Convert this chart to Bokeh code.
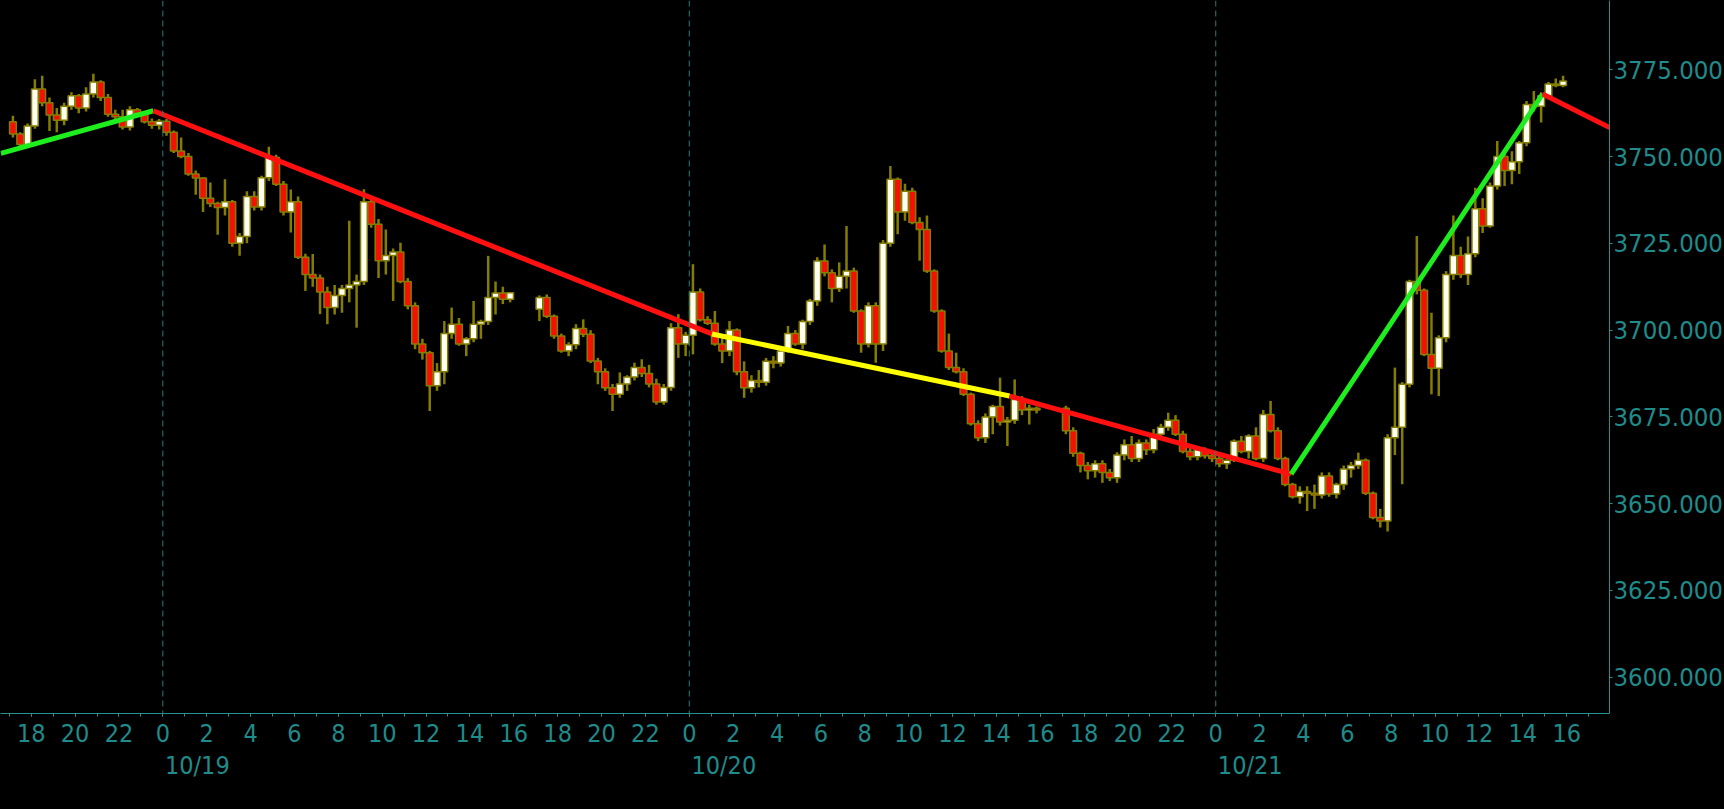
import numpy as np
import pandas as pd
from bokeh.plotting import figure
from bokeh.models import (Range1d, FixedTicker, PrintfTickFormatter, Span, LinearAxis,
                          ColumnDataSource, GlobalInlineStyleSheet)
from bokeh.embed import file_html
from bokeh.resources import INLINE

# ---------------- data ----------------
origin = pd.Timestamp("2020-10-19 00:00")
session_starts = ["2020-10-18 17:00", "2020-10-19 17:00", "2020-10-20 17:00"]
bar_minutes = 20

s1_open = [3760, 3756.5, 3753.5, 3758.8, 3769.5, 3765.5, 3762, 3760.5, 3764.5, 3767.5,
           3764, 3768, 3771.5, 3767, 3762.2, 3761.5, 3758.5, 3763.5, 3762.5, 3760,
           3759, 3760.2, 3757, 3751.6, 3750, 3745, 3743.8, 3738, 3736.5, 3735.3,
           3737, 3725, 3727, 3738.5, 3735.5, 3743.9, 3749.7, 3742, 3734, 3737,
           3721, 3716, 3715, 3711, 3706.5, 3710, 3712, 3713, 3714, 3737,
           3730.5, 3720, 3721.5, 3722.5, 3714, 3707, 3696, 3693.5, 3684, 3688,
           3699, 3701.7, 3696, 3697.5, 3701.7, 3702.5, 3709.4, 3710.7, 3708.9]
s1_high = [3761.8, 3757, 3759.5, 3772.3, 3773.3, 3767, 3764, 3765.5, 3768.5, 3768,
           3770, 3773.9, 3772, 3768, 3763.5, 3763.5, 3764.5, 3764, 3763, 3761,
           3760.8, 3760.8, 3757.5, 3755.5, 3751, 3746, 3744, 3742.5, 3737, 3743.5,
           3737.5, 3728, 3740, 3740, 3744.5, 3752.8, 3750.5, 3743, 3740.5, 3738.5,
           3722, 3721.9, 3716, 3712.5, 3713, 3713, 3731.5, 3716, 3740.6, 3738.5,
           3732, 3729, 3723.5, 3725.2, 3715, 3708, 3697.5, 3694, 3690.5, 3702.6,
           3706.5, 3703.5, 3698, 3708.4, 3703, 3721.4, 3714, 3712.5, 3711]
s1_low = [3755.5, 3752.8, 3753, 3758, 3764.5, 3757.4, 3757, 3759, 3763.5, 3762.5,
          3763, 3767, 3766, 3761.5, 3760.5, 3757.8, 3757.5, 3761.5, 3759.5, 3758,
          3757.8, 3756, 3751, 3749.5, 3744.5, 3739, 3734, 3735.5, 3727.5, 3733,
          3724, 3721.4, 3725, 3734.5, 3734.5, 3743, 3741.5, 3733, 3728.1, 3720.5,
          3711.3, 3712.5, 3704.6, 3701.7, 3704.5, 3705, 3708, 3700.7, 3713, 3729.5,
          3715, 3716, 3708.4, 3713.5, 3706, 3694.5, 3691.5, 3676.7, 3682.5, 3684.4,
          3697.5, 3695.5, 3692.5, 3696.5, 3697.5, 3701.5, 3704.5, 3707.5, 3708]
s1_close = [3756.5, 3753.5, 3758.8, 3769.5, 3765.5, 3762, 3760.5, 3764.5, 3767.5, 3764,
            3768, 3771.5, 3767, 3762.2, 3761.5, 3758.5, 3763.5, 3762.5, 3760, 3759,
            3760.2, 3757, 3751.6, 3750, 3745, 3743.8, 3738, 3736.5, 3735.3, 3737,
            3725, 3727, 3738.5, 3735.5, 3743.9, 3749.7, 3742, 3734, 3737, 3721,
            3716, 3715, 3711, 3706.5, 3710, 3712, 3713, 3714, 3737, 3730.5,
            3720, 3721.5, 3722.5, 3714, 3707, 3696, 3693.5, 3684, 3688, 3699,
            3701.7, 3696, 3697.5, 3701.7, 3702.5, 3709.4, 3710.7, 3708.9, 3710.8]

s2_open = [3706, 3709.4, 3704, 3698.3, 3694, 3695.8, 3700.5, 3698.8, 3691.1, 3688,
           3683.4, 3681.5, 3684.5, 3686.5, 3689.2, 3687.5, 3684.5, 3679.3, 3683.5, 3700.7,
           3696, 3698.5, 3711, 3703, 3702, 3696, 3694, 3700, 3688, 3683.4,
           3685.5, 3685, 3691, 3690.5, 3694, 3699, 3696, 3702.5, 3708.4, 3719.9,
           3716.5, 3712, 3715.5, 3717, 3705.5, 3696, 3707, 3696, 3725, 3743.5,
           3734, 3740, 3731, 3729, 3717, 3705.5, 3694, 3689.2, 3688, 3681.5,
           3673, 3669, 3675, 3678, 3673.5, 3674, 3680, 3677, 3677.5]
s2_high = [3710, 3710.3, 3704.5, 3699, 3696.5, 3701.7, 3703.1, 3700, 3692, 3689,
           3684.5, 3687.8, 3687, 3690.6, 3691.6, 3690, 3686, 3684.5, 3702, 3704.6,
           3699.5, 3719, 3712, 3704, 3705.5, 3698, 3702.6, 3700.5, 3691, 3687,
           3688.5, 3692, 3692.5, 3695, 3701.2, 3700, 3703, 3709, 3721, 3724.7,
           3717.5, 3719.5, 3730, 3718, 3706, 3708, 3708, 3726, 3747.3, 3744,
           3742.2, 3741, 3732.5, 3733, 3717.5, 3706, 3699, 3693.5, 3689, 3682,
           3674, 3676, 3678.5, 3686.3, 3675, 3685.8, 3681, 3678.5, 3678]
s2_low = [3702.6, 3703.5, 3697.5, 3693.5, 3692.5, 3694.5, 3698, 3690.5, 3684.4, 3682.5,
          3676.7, 3680.5, 3682.5, 3685.5, 3686.5, 3683.5, 3678.5, 3678.5, 3682.5, 3692,
          3692.5, 3693, 3702.5, 3701.5, 3695.5, 3690.5, 3692.5, 3687, 3680.5, 3682,
          3683.5, 3684, 3689, 3689.5, 3693.5, 3695.5, 3694.5, 3701.5, 3707, 3715.5,
          3708, 3711, 3712, 3705, 3693.5, 3695, 3690.6, 3694, 3724, 3727.6,
          3731.5, 3730.5, 3720, 3716.5, 3705, 3693.5, 3688.5, 3687.5, 3681, 3672.5,
          3668, 3667.5, 3670, 3672.5, 3666.6, 3673, 3675.5, 3672.8, 3676]
s2_close = [3709.4, 3704, 3698.3, 3694, 3695.8, 3700.5, 3698.8, 3691.1, 3688, 3683.4,
            3681.5, 3684.5, 3686.5, 3689.2, 3687.5, 3684.5, 3679.3, 3683.5, 3700.7, 3696,
            3698.5, 3711, 3703, 3702, 3696, 3694, 3700, 3688, 3683.4, 3685.5,
            3685, 3691, 3690.5, 3694, 3699, 3696, 3702.5, 3708.4, 3719.9, 3716.5,
            3712, 3715.5, 3717, 3705.5, 3696, 3707, 3696, 3725, 3743.5, 3734,
            3740, 3731, 3729, 3717, 3705.5, 3694, 3689.2, 3688, 3681.5, 3673,
            3669, 3675, 3678, 3673.5, 3674, 3680, 3677, 3677.5, 3677]

s3_open = [3677.5, 3671, 3664.5, 3661, 3659.5, 3661.5, 3659, 3657.5, 3664, 3667,
           3663, 3667.5, 3665.5, 3670, 3672, 3674, 3670, 3665, 3663.5, 3665.5,
           3663.8, 3663, 3661.5, 3662.5, 3668, 3665, 3669.5, 3663, 3675.7, 3671,
           3663, 3655.5, 3652, 3653.5, 3653, 3652.5, 3658, 3652.8, 3655.5, 3660,
           3661, 3662.5, 3653, 3646, 3645, 3669, 3672, 3684.4, 3714, 3711.5,
           3693, 3689, 3697.8, 3716, 3721.5, 3716, 3722, 3735, 3730, 3741.5,
           3750, 3746, 3748.5, 3754, 3765, 3764.5, 3767.5, 3770.9, 3770.5]
s3_high = [3678.2, 3672, 3665, 3662, 3662.5, 3662.5, 3660, 3664.8, 3668.5, 3669.5,
           3668.5, 3668.5, 3671.5, 3673, 3676.2, 3675.5, 3671, 3666.5, 3666.5, 3666.2,
           3665.5, 3664, 3662.8, 3668.5, 3669.5, 3670, 3672, 3677, 3679.6, 3672,
           3663.5, 3656, 3655, 3655, 3655.5, 3659, 3659, 3656, 3661, 3662,
           3664.7, 3663, 3653.5, 3648.5, 3670, 3689.2, 3685, 3714.5, 3727.1, 3712,
           3705, 3698.5, 3717, 3733, 3724, 3727, 3741, 3738, 3742.5, 3754.5,
           3752, 3751.5, 3754.5, 3766, 3768.9, 3768.5, 3771.5, 3772.5, 3773.3]
s3_low = [3670, 3663.5, 3659, 3657, 3657.5, 3656, 3656.5, 3656, 3662.5, 3662,
          3662, 3664, 3664.5, 3669, 3671, 3669.5, 3664.5, 3662.5, 3662.5, 3663,
          3662, 3660.5, 3660, 3662, 3664.5, 3663, 3662.5, 3662, 3670.5, 3662.5,
          3655, 3651.5, 3650, 3647.9, 3648.5, 3651.5, 3652, 3651.5, 3654, 3657.5,
          3660, 3652.5, 3645.5, 3643.1, 3642, 3664, 3655.6, 3683.5, 3710.3, 3692.5,
          3681.5, 3681, 3696.5, 3714.5, 3715, 3713, 3721, 3728, 3729.5, 3740.5,
          3741.5, 3742, 3745, 3753, 3763, 3759.8, 3766.5, 3770, 3770]
s3_close = [3671, 3664.5, 3661, 3659.5, 3661.5, 3659, 3657.5, 3664, 3667, 3663,
            3667.5, 3665.5, 3670, 3672, 3674, 3670, 3665, 3663.5, 3665.5, 3663.8,
            3663, 3661.5, 3662.5, 3668, 3665, 3669.5, 3663, 3675.7, 3671, 3663,
            3655.5, 3652, 3653.5, 3653, 3652.5, 3658, 3652.8, 3655.5, 3660, 3661,
            3662.5, 3653, 3646, 3645, 3669, 3672, 3684.4, 3714, 3711.5, 3693,
            3689, 3697.8, 3716, 3721.5, 3716, 3722, 3735, 3730, 3741.5, 3750,
            3746, 3748.5, 3754, 3765, 3764.5, 3767.5, 3770.9, 3770.5, 3771.8]

# trend lines drawn on the chart (time, price) vertices
trend_times = ["2020-10-18 16:37", "2020-10-18 23:34", "2020-10-20 01:02",
               "2020-10-20 14:36", "2020-10-21 03:26", "2020-10-21 14:54",
               "2020-10-21 18:00"]
trend_prices = [3750.9, 3763.2, 3698.9, 3681.0, 3658.5, 3768.0, 3758.2]
trend_colors = ["#1eee1e", "#ff1010", "#ffff00", "#ff1010", "#1eee1e", "#ff1010"]

y_ticks = [3600, 3625, 3650, 3675, 3700, 3725, 3750, 3775]
day_labels = ["10/19", "10/20", "10/21"]
day_starts = ["2020-10-19 00:00", "2020-10-20 00:00", "2020-10-21 00:00"]

# ---------------- styling ----------------
TEAL = "#1f8b8b"
AXIS = "#2a8f8f"
WICK = "#857d00"
UP = "#fffff2"
DOWN = "#f51005"
FONT = "DejaVu Sans Condensed, DejaVu Sans"

def hours(ts):
    return (pd.to_datetime(ts) - origin) / pd.Timedelta(hours=1)

frames = []
for start, o, h, l, c in zip(session_starts,
                              [s1_open, s2_open, s3_open],
                              [s1_high, s2_high, s3_high],
                              [s1_low, s2_low, s3_low],
                              [s1_close, s2_close, s3_close]):
    t = pd.date_range(start, periods=len(o), freq=f"{bar_minutes}min") + pd.Timedelta(minutes=bar_minutes / 2)
    frames.append(pd.DataFrame({"t": t, "open": o, "high": h, "low": l, "close": c}))
df = pd.concat(frames, ignore_index=True)
df["x"] = hours(df["t"])
df["top"] = np.maximum(df["open"], df["close"])
df["bottom"] = np.minimum(df["open"], df["close"])
df["top"] = np.where(df["top"] - df["bottom"] < 0.3, df["bottom"] + 0.3, df["top"])
df["color"] = np.where(df["close"] >= df["open"], UP, DOWN)
src = ColumnDataSource(df.drop(columns=["t"]))

x0, x1 = -7.40, 65.95
y0, y1 = 3589.54, 3794.97
FW, FH = 1609, 713
px_per_hour = FW / (x1 - x0)

p = figure(frame_width=FW, frame_height=FH,
           x_range=Range1d(x0, x1), y_range=Range1d(y0, y1),
           y_axis_location="right", output_backend="svg", toolbar_location=None,
           min_border_left=0, min_border_top=0, min_border_right=115, min_border_bottom=96,
           background_fill_color="black", border_fill_color="black",
           outline_line_color=None)
p.stylesheets = [GlobalInlineStyleSheet(css="html, body { background: #000; }")]
p.xgrid.visible = False
p.ygrid.visible = False

# day separators
for d in day_starts:
    p.add_layout(Span(location=hours(d), dimension="height", line_color="#237c7c",
                      line_width=1, line_dash="6 4"))

bar_w = (bar_minutes / 60.0) * 0.92
p.segment(x0="x", y0="low", x1="x", y1="high", source=src, line_color=WICK, line_width=2.5)
p.vbar(x="x", width=bar_w, bottom="bottom", top="top", source=src,
       fill_color="color", line_color=WICK, line_width=1.5)

# trend lines
tx = [hours(t) for t in trend_times]
for i, col in enumerate(trend_colors):
    p.line([tx[i], tx[i + 1]], [trend_prices[i], trend_prices[i + 1]],
           line_color=col, line_width=5)

# x axis: hour of day labels every 2 h, minor tick every hour
xa = p.xaxis[0]
major = list(range(-6, 66, 2))
minor = list(range(-7, 66))
xa.ticker = FixedTicker(ticks=major, minor_ticks=minor)
xa.major_label_overrides = {m: str(m % 24) for m in major}
xa.axis_line_color = AXIS
xa.major_tick_line_color = AXIS
xa.minor_tick_line_color = AXIS
xa.major_tick_in = 0
xa.major_tick_out = 3
xa.minor_tick_in = 0
xa.minor_tick_out = 3
xa.major_label_text_color = TEAL
xa.major_label_text_font = FONT
xa.major_label_text_font_size = "25px"
xa.major_label_standoff = 7

# second axis below carrying the date labels; each label starts at its midnight line
# (centered labels shifted right by half their ~65px width)
shift = (65 / 2 + 2) / px_per_hour
day_x = [hours(d) + shift for d in day_starts]
da = LinearAxis(ticker=FixedTicker(ticks=day_x, minor_ticks=[]),
                major_label_overrides={dx: lab for dx, lab in zip(day_x, day_labels)})
da.axis_line_color = None
da.major_tick_line_color = None
da.minor_tick_line_color = None
da.major_tick_in = 0
da.major_tick_out = 0
da.major_label_text_color = TEAL
da.major_label_text_font = FONT
da.major_label_text_font_size = "25px"
da.major_label_standoff = 6
p.add_layout(da, "below")

ya = p.yaxis[0]
ya.ticker = FixedTicker(ticks=y_ticks)
ya.formatter = PrintfTickFormatter(format="%.3f")
ya.axis_line_color = AXIS
ya.major_tick_line_color = AXIS
ya.major_tick_in = 0
ya.major_tick_out = 3
ya.minor_tick_line_color = None
ya.major_label_text_color = TEAL
ya.major_label_text_font = FONT
ya.major_label_text_font_size = "25.5px"
ya.major_label_standoff = 1

open("out.html", "w").write(file_html(p, INLINE))
